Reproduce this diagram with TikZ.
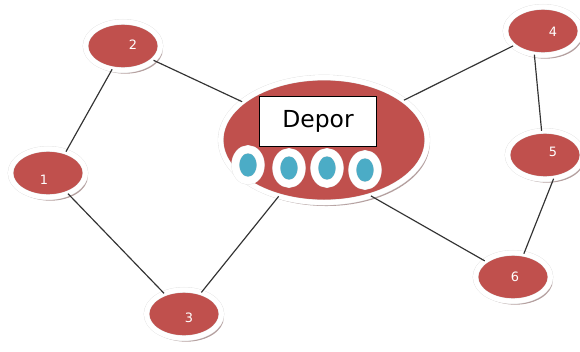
\documentclass[tikz,border=0pt]{standalone}
\usepackage{fontspec}
\setmainfont{DejaVu Sans}
\usetikzlibrary{shapes.geometric,shadows}
\definecolor{rojo}{HTML}{C0504D}
\definecolor{celeste}{HTML}{4BACC6}
\tikzset{
	sombra/.style={drop shadow={shadow xshift=2pt, shadow yshift=-3pt, fill=black!55!rojo!80!white, opacity=0.55}},
	anillo/.style={draw=black!12, double=white, line width=0.3pt, double distance=0.15cm},
	punto/.style={ellipse, fill=rojo, anillo, 
		minimum width=2.25cm, minimum height=1.45cm, inner sep=0pt, sombra},
	numero/.style={text=white, inner sep=0pt, font=\fontsize{11}{11}\selectfont},
	centro/.style={ellipse, fill=rojo, anillo, 
		minimum width=6.2cm, minimum height=3.75cm, inner sep=0pt, sombra},
	caja/.style={rectangle, fill=white, draw=black, line width=0.8pt, 
		minimum width=3.5cm, minimum height=1.5cm, font=\fontsize{20}{24}\selectfont},
	boton/.style={ellipse, fill=celeste, draw=black!10, double=white, line width=0.3pt, 
		double distance=0.22cm, minimum width=0.76cm, minimum height=0.95cm, inner sep=0pt, 
		drop shadow={shadow xshift=1.5pt, shadow yshift=-2.5pt, fill=black!70, opacity=0.5}},
	enlace/.style={draw=black!80, line width=1pt}
}
\begin{document}
\begin{tikzpicture}[x=0.03cm, y=-0.03cm]
	\useasboundingbox (0,0) rectangle (580,351);
	
	\node[centro] (dep) at (324,140) {};
	\node[caja] (nombre) at (318,121) {Depor};
	\foreach \i/\x/\y in {1/248/165, 2/289/168, 3/327/168, 4/365/170}
		\node[boton] (b\i) at (\x,\y) {};
	
	\node[punto] (n1) at (48,173) {};
	\node[punto] (n2) at (123,46) {};
	\node[punto] (n3) at (184,314) {};
	\node[punto] (n4) at (543,31) {};
	\node[punto] (n5) at (545,155) {};
	\node[punto] (n6) at (513,277) {};
	
	\node[numero] (t1) at (44,180) {1};
	\node[numero] (t2) at (133,45) {2};
	\node[numero] (t3) at (189,318) {3};
	\node[numero] (t4) at (553,32) {4};
	\node[numero] (t5) at (553,152) {5};
	\node[numero] (t6) at (515,277) {6};
	
	\draw[enlace] (n2.-115) -- (n1.50);
	\draw[enlace] (n2) -- (dep);
	\draw[enlace] (n4) -- (dep);
	\draw[enlace] (n4.-110) -- (n5.98);
	\draw[enlace] (n5.-70) -- (n6.65);
	\draw[enlace] (dep.-50) -- (n6);
	\draw[enlace] (dep) -- (n3);
	\draw[enlace] (n1) -- (n3);
\end{tikzpicture}
\end{document}
